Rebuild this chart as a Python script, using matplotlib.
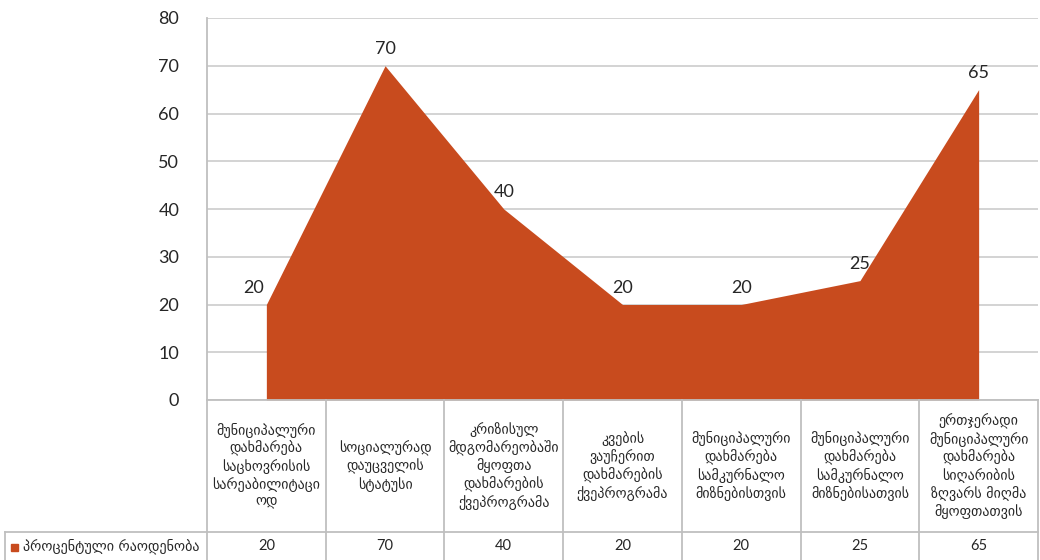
import matplotlib
matplotlib.use("Agg")
import matplotlib.pyplot as plt
from matplotlib.lines import Line2D
from matplotlib.patches import Rectangle
import matplotlib.transforms as mtrans

categories = [
    "მუნიციპალური\nდახმარება\nსაცხოვრისის\nსარეაბილიტაცი\nოდ",
    "სოციალურად\nდაუცველის\nსტატუსი",
    "კრიზისულ\nმდგომარეობაში\nმყოფთა\nდახმარების\nქვეპროგრამა",
    "კვების\nვაუჩერით\nდახმარების\nქვეპროგრამა",
    "მუნიციპალური\nდახმარება\nსამკურნალო\nმიზნებისთვის",
    "მუნიციპალური\nდახმარება\nსამკურნალო\nმიზნებისათვის",
    "ერთჯერადი\nმუნიციპალური\nდახმარება\nსიღარიბის\nზღვარს მიღმა\nმყოფთათვის",
]
values = [20, 70, 40, 20, 20, 25, 65]
series_name = "პროცენტული რაოდენობა"
yticks = [0, 10, 20, 30, 40, 50, 60, 70, 80]

COLOR = "#C84B1E"
GRID = "#D0D0D0"
BORDER = "#BFBFBF"
TXT = "#262626"
NUMFONT = ["Lato", "DejaVu Sans"]
GEOFONT = ["DejaVu Sans"]

W, H = 1040, 560
fig = plt.figure(figsize=(W / 100, H / 100), dpi=100)
ax_l, ax_r, ax_t, ax_b = 207, 1038, 18, 400
ax = fig.add_axes([ax_l / W, 1 - ax_b / H, (ax_r - ax_l) / W, (ax_b - ax_t) / H])

n = len(values)
x = list(range(n))
ax.fill_between(x, values, 0, color=COLOR, linewidth=0, zorder=3)
ax.set_xlim(-0.5, n - 0.5)
ax.set_ylim(0, 80)
ax.set_yticks(yticks)
ax.set_yticklabels([str(v) for v in yticks], fontsize=13, color=TXT, family=NUMFONT)
ax.tick_params(axis="y", length=0, pad=20)
ax.set_xticks([])
ax.grid(axis="y", color=GRID, linewidth=1.3, zorder=0)
for s in ["top", "right", "bottom"]:
    ax.spines[s].set_visible(False)
ax.spines["left"].set_color(BORDER)
ax.spines["left"].set_linewidth(1.3)

# data labels
for i, v in enumerate(values):
    dx = -9 if i == 0 else 0
    ax.annotate(str(v), (i, v), xytext=(dx, 12), textcoords="offset points",
                ha="center", va="center", fontsize=13, color=TXT,
                family=NUMFONT, zorder=5, annotation_clip=False)

# data table below the axes
axh = ax_b - ax_t
def yfrac(py):
    return (ax_b - py) / axh

trans = mtrans.blended_transform_factory(ax.transData, ax.transAxes)
row1_bot = yfrac(532)
row2_bot = yfrac(562)

lw = 1.3
ax.add_line(Line2D([-0.5, n - 0.5], [0, 0], transform=trans, color=BORDER, lw=lw, clip_on=False, zorder=4))
fig.add_artist(Line2D([5 / W, ax_r / W], [1 - 532 / H, 1 - 532 / H], color=BORDER, lw=lw))
fig.add_artist(Line2D([5 / W, 5 / W], [1 - 532 / H, 0], color=BORDER, lw=lw))
for i in range(n + 1):
    ax.add_line(Line2D([i - 0.5, i - 0.5], [0, row2_bot], transform=trans, color=BORDER,
                       lw=lw, clip_on=False, zorder=4))

for i, c in enumerate(categories):
    ax.text(i, (0 + row1_bot) / 2, c, transform=trans, ha="center", va="center",
            fontsize=10.1, color=TXT, family=GEOFONT, linespacing=1.25, clip_on=False)
    ax.text(i, (row1_bot + yfrac(560)) / 2, str(values[i]), transform=trans, ha="center",
            va="center", fontsize=10.5, color=TXT, family=NUMFONT, clip_on=False)

fig.add_artist(Rectangle((11 / W, 1 - 551 / H), 7 / W, 7 / H, color=COLOR, transform=fig.transFigure))
fig.text(23 / W, 1 - 546 / H, series_name, ha="left", va="center", fontsize=10.2,
         color=TXT, family=GEOFONT)

fig.savefig("out.png", dpi=100)
